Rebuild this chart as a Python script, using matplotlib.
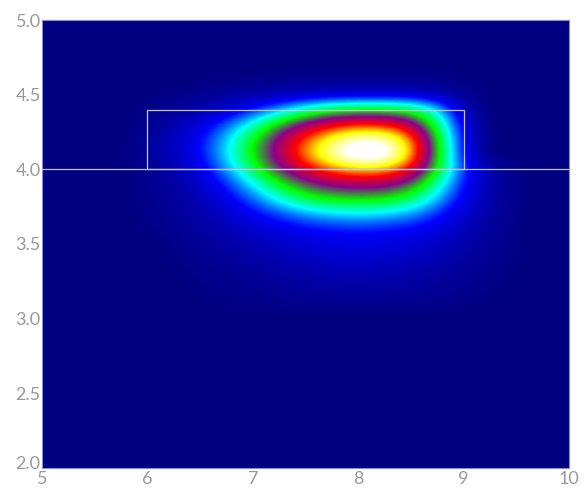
import numpy as np
import matplotlib
matplotlib.use("Agg")
import matplotlib.pyplot as plt
from matplotlib.colors import LinearSegmentedColormap
from matplotlib.patches import Rectangle
from matplotlib.transforms import ScaledTranslation

# grid of the field (x columns, y rows from top to bottom)
x_grid = [5.75, 6.0, 6.25, 6.5, 6.75, 7.0, 7.25, 7.5, 7.75, 8.0, 8.25, 8.5, 8.75, 9.0, 9.25, 9.5, 9.75]
y_grid = [4.7, 4.6, 4.5, 4.4, 4.3, 4.2, 4.1, 4.0, 3.9, 3.8, 3.7, 3.6, 3.5, 3.4, 3.3, 3.2, 3.1, 3.0]
field = [
    [0, 0, 0, 0, 0, 0, 0, 0, 0, 0, 0, 0, 0, 0, 0, 0, 0],
    [0, 0, 0, 0.005, 0.01, 0.01, 0.015, 0.02, 0.02, 0.02, 0.02, 0.02, 0.015, 0.01, 0, 0, 0],
    [0, 0, 0.01, 0.02, 0.03, 0.04, 0.05, 0.06, 0.07, 0.07, 0.07, 0.07, 0.05, 0.02, 0, 0, 0],
    [0, 0.01, 0.03, 0.05, 0.09, 0.15, 0.23, 0.33, 0.40, 0.43, 0.43, 0.40, 0.28, 0.06, 0, 0, 0],
    [0, 0.02, 0.05, 0.10, 0.19, 0.31, 0.47, 0.60, 0.69, 0.73, 0.72, 0.63, 0.38, 0.10, 0, 0, 0],
    [0, 0.03, 0.07, 0.14, 0.26, 0.42, 0.60, 0.76, 0.90, 1.00, 0.98, 0.81, 0.45, 0.12, 0, 0, 0],
    [0, 0.03, 0.07, 0.14, 0.27, 0.44, 0.62, 0.80, 0.97, 1.10, 1.08, 0.84, 0.46, 0.12, 0, 0, 0],
    [0, 0.02, 0.05, 0.11, 0.23, 0.39, 0.55, 0.68, 0.78, 0.83, 0.82, 0.71, 0.43, 0.17, 0.05, 0.01, 0],
    [0, 0.02, 0.04, 0.08, 0.16, 0.28, 0.42, 0.53, 0.59, 0.61, 0.60, 0.52, 0.33, 0.14, 0.05, 0.01, 0],
    [0, 0.02, 0.03, 0.06, 0.12, 0.20, 0.30, 0.39, 0.44, 0.45, 0.44, 0.38, 0.25, 0.12, 0.05, 0.01, 0],
    [0, 0.01, 0.03, 0.05, 0.08, 0.13, 0.18, 0.23, 0.26, 0.27, 0.26, 0.23, 0.16, 0.09, 0.04, 0.01, 0],
    [0, 0.01, 0.02, 0.04, 0.06, 0.09, 0.11, 0.14, 0.15, 0.16, 0.15, 0.14, 0.11, 0.07, 0.03, 0.01, 0],
    [0, 0, 0.01, 0.03, 0.04, 0.06, 0.08, 0.10, 0.11, 0.115, 0.11, 0.10, 0.08, 0.05, 0.03, 0.01, 0],
    [0, 0, 0.01, 0.02, 0.03, 0.045, 0.06, 0.075, 0.085, 0.09, 0.085, 0.075, 0.06, 0.04, 0.02, 0.01, 0],
    [0, 0, 0.005, 0.015, 0.02, 0.03, 0.04, 0.05, 0.06, 0.06, 0.06, 0.05, 0.04, 0.03, 0.015, 0.005, 0],
    [0, 0, 0, 0.01, 0.015, 0.02, 0.03, 0.035, 0.04, 0.04, 0.04, 0.035, 0.03, 0.02, 0.01, 0, 0],
    [0, 0, 0, 0.005, 0.01, 0.01, 0.015, 0.02, 0.02, 0.02, 0.02, 0.02, 0.015, 0.01, 0.005, 0, 0],
    [0, 0, 0, 0, 0, 0, 0, 0, 0, 0, 0, 0, 0, 0, 0, 0, 0],
]

# box and cut line
box_x = [6.0, 9.0]
box_y = [4.0, 4.4]
cut_y = 4.0

x_ticks = [5, 6, 7, 8, 9, 10]
y_ticks = [2.0, 2.5, 3.0, 3.5, 4.0, 4.5, 5.0]

cmap = LinearSegmentedColormap.from_list(
    "heat", ["#000080", "#0000ff", "#00ffff", "#00ff00", "#8c008c", "#ff0000", "#ffff00", "#ffffff"])

fig = plt.figure(figsize=(5.85, 4.91), dpi=100)
ax = fig.add_axes([42 / 585, 23 / 491, 527 / 585, 448 / 491])
ax.set_facecolor("#000080")

dx = x_grid[1] - x_grid[0]
dy = y_grid[0] - y_grid[1]
ext = [x_grid[0] - dx / 2, x_grid[-1] + dx / 2, y_grid[-1] - dy / 2, y_grid[0] + dy / 2]
ax.imshow(np.array(field), cmap=cmap, vmin=0, vmax=1, extent=ext,
          interpolation="bicubic", aspect="auto", zorder=1)

line_col = "#c4c4e8"
ax.axhline(cut_y, color=line_col, lw=0.9, zorder=3)
ax.add_patch(Rectangle((box_x[0], box_y[0]), box_x[1] - box_x[0], box_y[1] - box_y[0],
                       fill=False, ec=line_col, lw=0.9, zorder=3))

ax.set_xlim(5, 10)
ax.set_ylim(2, 5)
ax.set_xticks(x_ticks)
ax.set_yticks(y_ticks)
ax.set_xticklabels([str(v) for v in x_ticks])
ax.set_yticklabels(["%.1f" % v for v in y_ticks])
ax.tick_params(length=0, labelsize=13, labelcolor="#999999")
ax.tick_params(axis="x", pad=2)
ax.tick_params(axis="y", pad=1)
for lab in ax.get_xticklabels() + ax.get_yticklabels():
    lab.set_family("Lato")
# lift the bottom y label a little so it clears the first x label
low = ax.get_yticklabels()[0]
low.set_transform(low.get_transform() + ScaledTranslation(0, 4 / 72, fig.dpi_scale_trans))
for s in ax.spines.values():
    s.set_color("#8a8ad8")
    s.set_linewidth(0.8)

fig.savefig("out.png", dpi=100, facecolor="white")
